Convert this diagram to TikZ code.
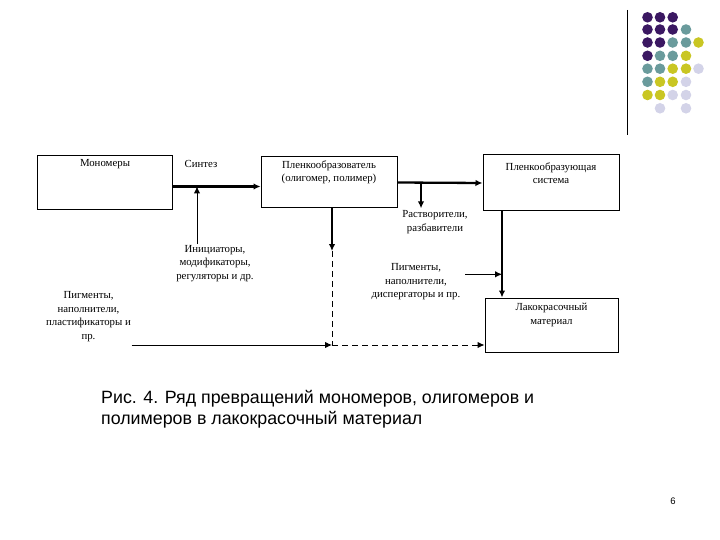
\documentclass[tikz,border=0pt]{standalone}
\usepackage{fontspec}
\setmainfont{Liberation Serif}
\newfontfamily\capfont{Liberation Sans}
\usetikzlibrary{arrows.meta,calc}
\definecolor{dotpurple}{RGB}{59,24,98}
\definecolor{dotteal}{RGB}{106,155,156}
\definecolor{dotyellow}{RGB}{201,198,35}
\definecolor{dotlav}{RGB}{211,211,232}
\tikzset{
  boxnode/.style={draw=black,line width=1pt,minimum width=#1,inner sep=0pt},
  txt/.style={font=\fontsize{10.8}{13.5}\selectfont,align=center,inner sep=0pt},
  thickarrow/.style={line width=2.3pt,-{Latex[length=7pt,width=6.5pt]}},
  thinarrow/.style={line width=1pt,-{Latex[length=7pt,width=6.5pt]}},
  dashedarrow/.style={line width=1pt,dash pattern=on 6pt off 4pt,-{Latex[length=7pt,width=6.5pt]}},
  captxt/.style={font=\capfont\fontsize{17.8}{21}\selectfont,inner sep=0pt,anchor=base west},
}
\begin{document}
\begin{tikzpicture}[x=1pt,y=-1pt]
\useasboundingbox (0,0) rectangle (720,540);
% decorative top-right
\draw[line width=1.1pt] (627.3,10) -- (627.3,135);
\foreach \c/\x/\y in {
 dotpurple/647.5/17.3, dotpurple/660/17.3, dotpurple/672.7/17.3,
 dotpurple/647.5/29.5, dotpurple/660/29.5, dotpurple/672.7/29.5, dotteal/686/29.5,
 dotpurple/647.5/42.5, dotpurple/660/42.5, dotteal/672.7/42.5, dotteal/686/42.5, dotyellow/698.5/42.5,
 dotpurple/647.5/55.8, dotteal/660/55.8, dotteal/672.7/55.8, dotyellow/686/55.8,
 dotteal/647.5/68.7, dotteal/660/68.7, dotyellow/672.7/68.7, dotyellow/686/68.7, dotlav/698.5/68.7,
 dotteal/647.5/81.8, dotyellow/660/81.8, dotyellow/672.7/81.8, dotlav/686/81.8,
 dotyellow/647.5/95, dotyellow/660/95, dotlav/672.7/95, dotlav/686/95,
 dotlav/660/108.3, dotlav/686/108.3}
 \fill[\c] (\x,\y) circle (5.3);
% boxes
\node[boxnode=135pt,minimum height=54pt] (mono) at (104.5,183) {};
\node[boxnode=136pt,minimum height=51pt] (plenk) at (329,182.5) {};
\node[boxnode=136pt,minimum height=56pt] (sys) at (551,183) {};
\node[boxnode=133pt,minimum height=54pt] (lak) at (551.5,325) {};
% texts
\node[txt] (tmono) at (105,164) {Мономеры};
\node[txt] (tsint) at (201,164) {Синтез};
\node[txt] (tplenk) at (329,172.5) {Пленкообразователь\\(олигомер, полимер)};
\node[txt] (tsys) at (551,173) {Пленкообразующая\\система};
\node[txt] (tlak) at (551.5,315) {Лакокрасочный\\материал};
\node[txt] (solv) at (435,222) {Растворители,\\разбавители};
\node[txt] (init) at (215,263.5) {Инициаторы,\\модификаторы,\\регуляторы и др.};
\node[txt] (pigl) at (88.5,316.5) {Пигменты,\\наполнители,\\пластификаторы и\\пр.};
\node[txt] (pigr) at (416,282) {Пигменты,\\наполнители,\\диспергаторы и пр.};
% junction coordinates
\coordinate (j1) at (197,186.5);
\coordinate (j2) at (421,182.5);
\coordinate (j3) at (332,251);
\coordinate (j4) at (332,345);
\coordinate (j5) at (131.7,345);
\coordinate (j6) at (465,274.3);
\coordinate (j7) at (502,274.3);
% connectors
\draw[thickarrow] ([yshift=-3.5pt]mono.east) -- ([yshift=-3.5pt]mono.east -| plenk.west);
\draw[thinarrow] (j1 |- init.north) ++(0,-1) -- (j1);
\draw[thickarrow] (plenk.east) -- (sys.west);
\draw[thickarrow] (j2) -- ($(j2 |- solv.north)+(0,-2)$);
\draw[thickarrow] (j3 |- plenk.south) -- (j3);
\draw[line width=1pt,dash pattern=on 6pt off 4pt] (j3) -- (j4);
\draw[thinarrow] (j5) -- (j4);
\draw[dashedarrow] (j4) -- (j4 -| lak.west);
\draw[thickarrow] (j7 |- sys.south) -- (j7 |- lak.north);
\draw[thinarrow] (j6) -- (j7);
% caption
\node[captxt] (cap1) at (101,403.3) {Рис. 4. Ряд превращений мономеров, олигомеров и};
\node[captxt] (cap2) at (101,424.5) {полимеров в лакокрасочный материал};
\node[font=\capfont\fontsize{9.5}{10}\selectfont,inner sep=0pt] (pnum) at (673,501) {6};
\end{tikzpicture}
\end{document}
